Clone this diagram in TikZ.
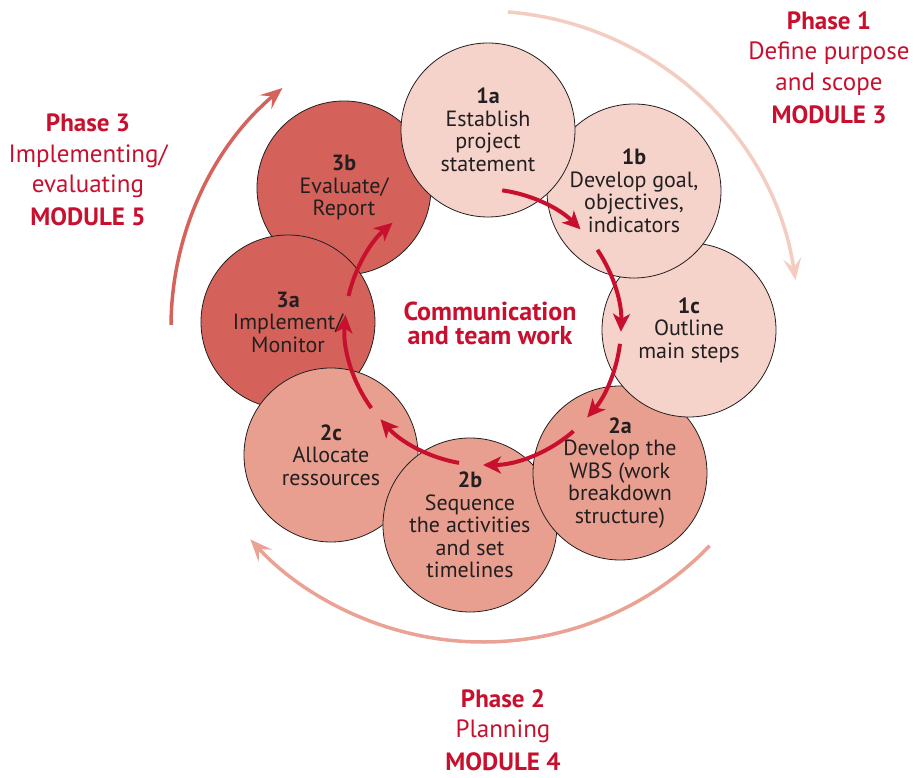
\documentclass[tikz,border=0pt]{standalone}
\usepackage{fontspec}
\setmainfont{PT Sans}
\usetikzlibrary{arrows.meta,shapes.geometric}
\definecolor{crimson}{HTML}{C8102E}
\definecolor{textdark}{HTML}{231F20}
\definecolor{stepone}{HTML}{F5D3CA}
\definecolor{steptwo}{HTML}{E89F90}
\definecolor{stepthree}{HTML}{D4625A}
\definecolor{arcone}{HTML}{F3CDC1}
\definecolor{arctwo}{HTML}{E9A294}
\definecolor{arcthree}{HTML}{D5625B}

\begin{document}
\begin{tikzpicture}[x=1pt,y=1pt]
            \tikzstyle{stage}=[circle,draw=textdark,line width=0.8pt,minimum size=174pt,inner sep=0pt,align=center,text=textdark,font=\fontsize{22}{22.5}\selectfont]
            \tikzstyle{flow}=[draw=crimson,line width=4pt,-{Stealth[length=18pt,width=17pt,inset=5pt]}]
            \tikzstyle{phase arc}=[line width=3.5pt,-{Stealth[length=22pt,width=18pt,inset=9pt]}]
            \tikzstyle{phase text}=[align=center,text=crimson,font=\fontsize{25}{30.5}\selectfont]
            \useasboundingbox (-483,-451) rectangle (436,327);
            % outer phase arcs
            \coordinate (p1) at (85.5:316);
            \coordinate (p2) at (-44:315);
            \coordinate (p3) at (179.6:312);
            \draw[phase arc,draw=arcone] (p1) arc[start angle=85.5,end angle=8.5,radius=316];
            \draw[phase arc,draw=arctwo] (p2) arc[start angle=-44,end angle=-137.6,radius=315];
            \draw[phase arc,draw=arcthree] (p3) arc[start angle=179.6,end angle=130,radius=312];
            % steps, back to front
            \node[stage,fill=stepthree] (3b) at (-139,139) {\textbf{3b}\\Evaluate/\\Report};
            \node[stage,fill=stepthree] (3a) at (-195,5) {\textbf{3a}\\Implement/\\Monitor};
            \node[stage,fill=steptwo] (2c) at (-152,-128) {\textbf{2c}\\Allocate\\ressources};
            \node[stage,fill=steptwo] (2b) at (-13,-198) {\textbf{2b}\\Sequence\\the activities\\and set\\timelines};
            \node[stage,fill=steptwo] (2a) at (137,-146) {\textbf{2a}\\Develop the\\WBS (work\\breakdown\\structure)};
            \node[stage,fill=stepone] (1c) at (206,-3) {\textbf{1c}\\Outline\\main steps};
            \node[stage,fill=stepone] (1b) at (151,136) {\textbf{1b}\\Develop goal,\\objectives,\\indicators};
            \node[stage,fill=stepone] (1a) at (5,197) {\textbf{1a}\\Establish\\project\\statement};
            % flow between steps
            \coordinate (f1) at (82:138);
            \coordinate (f2) at (34:138);
            \coordinate (f3) at (-7:138);
            \coordinate (f4) at (-49:138);
            \coordinate (f5) at (-100:138);
            \coordinate (f6) at (-144:138);
            \coordinate (f7) at (-193:138);
            \draw[flow] (f1) arc[start angle=82,end angle=45,radius=138];
            \draw[flow] (f2) arc[start angle=34,end angle=-2,radius=138];
            \draw[flow] (f3) arc[start angle=-7,end angle=-41,radius=138];
            \draw[flow] (f4) arc[start angle=-49,end angle=-90,radius=138];
            \draw[flow] (f5) arc[start angle=-100,end angle=-138,radius=138];
            \draw[flow] (f6) arc[start angle=-144,end angle=-185,radius=138];
            \draw[flow] (f7) arc[start angle=-193,end angle=-229,radius=138];
            % labels
            \node[text=crimson,align=center,font=\bfseries\fontsize{26}{24}\selectfont] (team) at (7,4) {Communication\\and team work};
            \node[phase text] (ph1) at (346,259) {\textbf{Phase 1}\\Define purpose\\and scope\\[3pt]\textbf{MODULE 3}};
            \node[phase text] (ph3) at (-395,157) {\textbf{Phase 3}\\Implementing/\\evaluating\\[2pt]\textbf{MODULE 5}};
            \node[phase text] (ph2) at (20,-403) {\textbf{Phase 2}\\Planning\\[2pt]\textbf{MODULE 4}};
          \end{tikzpicture}
\end{document}
